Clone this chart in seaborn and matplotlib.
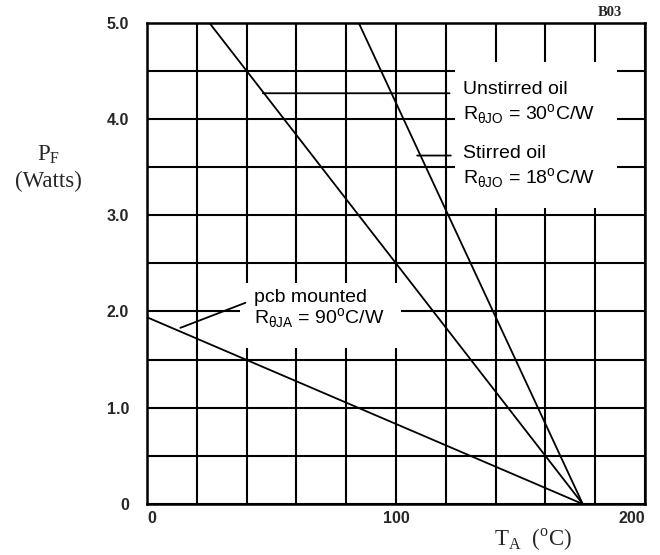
import numpy as np
import pandas as pd
import seaborn as sns
import matplotlib
matplotlib.use("Agg")
import matplotlib.pyplot as plt
from matplotlib.patches import Rectangle
from matplotlib.ticker import FixedLocator, MultipleLocator

# ---- data ----
series_names = ["Unstirred oil", "Stirred oil", "pcb mounted"]
unstirred_ta = [25, 175]
unstirred_pf = [5.0, 0.0]
stirred_ta = [85, 175]
stirred_pf = [5.0, 0.0]
pcb_ta = [0, 175]
pcb_pf = [1.94, 0.0]

x_tick_values = [0, 100, 200]
x_tick_labels = ["0", "100", "200"]
y_tick_values = [0, 1, 2, 3, 4, 5]
y_tick_labels = ["0", "1.0", "2.0", "3.0", "4.0", "5.0"]

df = pd.DataFrame({
    "TA": unstirred_ta + stirred_ta + pcb_ta,
    "PF": unstirred_pf + stirred_pf + pcb_pf,
    "series": [series_names[0]] * 2 + [series_names[1]] * 2 + [series_names[2]] * 2,
})

sns.set_theme(style="white")
plt.rcParams["font.family"] = ["Liberation Sans", "DejaVu Sans"]

fig = plt.figure(figsize=(6.6, 5.55), dpi=100)
ax = fig.add_axes([147 / 660, 1 - 504 / 555, 498 / 660, 481.3 / 555])

sns.lineplot(data=df, x="TA", y="PF", hue="series",
             palette={n: "black" for n in series_names},
             legend=False, ax=ax, lw=1.3, zorder=4)

ax.set_xlim(0, 200)
ax.set_ylim(0, 5)
ax.xaxis.set_major_locator(FixedLocator(x_tick_values))
ax.set_xticklabels(x_tick_labels)
ax.xaxis.set_minor_locator(MultipleLocator(20))
ax.yaxis.set_major_locator(FixedLocator(y_tick_values))
ax.set_yticklabels(y_tick_labels)
ax.yaxis.set_minor_locator(MultipleLocator(0.5))
ax.set_axisbelow(True)
ax.grid(which="both", color="black", lw=1.5)
ax.tick_params(which="both", length=0)
ax.tick_params(axis="y", pad=13)
ax.tick_params(axis="x", pad=5)
for lab in ax.get_xticklabels() + ax.get_yticklabels():
    lab.set_fontweight("bold")
    lab.set_fontsize(11.5)
xl = ax.get_xticklabels()
xl[0].set_ha("left")
xl[-1].set_ha("right")
ax.set_xlabel("")
ax.set_ylabel("")
for s in ax.spines.values():
    s.set_color("black")
    s.set_linewidth(1.8)

# white areas behind the labels (grid interrupted there)
ax.add_patch(Rectangle((123.6, 3.08), 65.0, 1.51, facecolor="white",
                       edgecolor="none", zorder=2))
ax.add_patch(Rectangle((37.5, 1.62), 64.5, 0.68, facecolor="white",
                       edgecolor="none", zorder=2))

tkw = dict(fontsize=14, color="black", va="center", ha="left", zorder=5)
ax.text(127, 4.31, "Unstirred oil", **tkw)
ax.text(127, 4.05, r"R$_{\mathregular{θJO}}$ = 30$^{\mathregular{o}}$C/W", **tkw)
ax.text(127, 3.64, "Stirred oil", **tkw)
ax.text(127, 3.39, r"R$_{\mathregular{θJO}}$ = 18$^{\mathregular{o}}$C/W", **tkw)
ax.text(43, 2.15, "pcb mounted", **tkw)
ax.text(43, 1.93, r"R$_{\mathregular{θJA}}$ = 90$^{\mathregular{o}}$C/W", **tkw)

lkw = dict(arrowprops=dict(arrowstyle="-", color="black", lw=1.3,
                           shrinkA=0, shrinkB=0), zorder=5)
ax.annotate("", xy=(46.5, 4.267), xytext=(121.5, 4.267), **lkw)
ax.annotate("", xy=(108.5, 3.62), xytext=(122, 3.62), **lkw)
ax.annotate("", xy=(13.4, 1.83), xytext=(39.5, 2.09), **lkw)

serif = ["Liberation Serif", "DejaVu Serif"]
fig.text(49 / 660, 1 - 155 / 555, r"P$_{\mathregular{F}}$", family=serif,
         fontsize=16.5, ha="center", va="center")
fig.text(48.5 / 660, 1 - 181 / 555, "(Watts)", family=serif,
         fontsize=16.5, ha="center", va="center")
fig.text(533 / 660, 1 - 540 / 555, r"T$_{\mathregular{A}}$  ($^{\mathregular{o}}$C)",
         family=serif, fontsize=16.5, ha="center", va="center")
fig.text(610 / 660, 1 - 13 / 555, "B03", family=serif, fontsize=10.5,
         fontweight="bold", ha="center", va="center")

fig.savefig("out.png", dpi=100, facecolor="white")
